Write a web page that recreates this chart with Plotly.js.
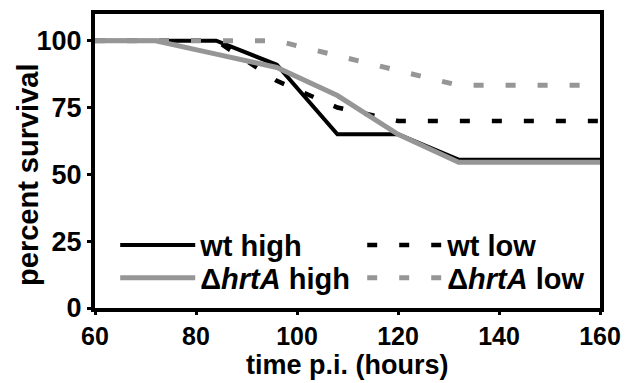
<!DOCTYPE html>
<html>
<head>
<meta charset="utf-8">
<script src="https://cdn.plot.ly/plotly-3.0.1.min.js"></script>
<style>html,body{margin:0;padding:0;background:#fff;}#chart{width:628px;height:383px;}</style>
</head>
<body>
<div id="chart"></div>
<script>
// time post infection (hours)
var hours = [60, 72, 84, 96, 108, 120, 132, 144, 160];
// percent survival per group
var wtHigh   = [100, 100, 100, 91, 65, 65, 55.5, 55.5, 55.5];
var wtLow    = [100, 100, 100, 85, 75, 70, 70, 70, 70];
var hrtAHigh = [100, 100, 95, 90, 79.5, 65, 54.5, 54.5, 54.5];
var hrtALow  = [100, 100, 100, 100, 94.4, 88.9, 83.3, 83.3, 83.3];
var seriesNames = ['wt high', 'wt low', '\u0394<i>hrtA</i> high', '\u0394<i>hrtA</i> low'];
var xTicks = [60, 80, 100, 120, 140, 160];
var yTicks = [0, 25, 50, 75, 100];
var xTitle = 'time p.i. (hours)';
var yTitle = 'percent survival';

var black = '#000000', gray = '#969696';
var dashPat = '10px,22px';

var traces = [
  {x: hours, y: wtHigh, name: seriesNames[0], legend: 'legend', mode: 'lines', line: {color: black, width: 4}},
  {x: hours, y: wtLow, name: seriesNames[1], legend: 'legend', mode: 'lines', line: {color: black, width: 4.5, dash: dashPat}},
  {x: hours, y: hrtAHigh, name: seriesNames[2], legend: 'legend2', mode: 'lines', line: {color: gray, width: 5}},
  {x: hours, y: hrtALow, name: seriesNames[3], legend: 'legend2', mode: 'lines', line: {color: gray, width: 5, dash: dashPat}}
];

var fontFam = 'Liberation Sans, Arial, sans-serif';
var legFont = {family: fontFam, size: 29, color: '#000', weight: 'bold'};
function legendAt(y) {
  return {
    orientation: 'h', x: 0.04, y: y, xanchor: 'left', yanchor: 'middle',
    entrywidth: 157, entrywidthmode: 'pixels', itemwidth: 75,
    font: legFont, bgcolor: 'rgba(0,0,0,0)'
  };
}
var layout = {
  width: 628, height: 383,
  margin: {l: 95, r: 28, t: 14, b: 75},
  paper_bgcolor: '#fff', plot_bgcolor: '#fff',
  font: {family: fontFam, color: '#000', size: 25, weight: 'bold'},
  showlegend: true,
  legend: legendAt(0.214),
  legend2: legendAt(0.102),
  xaxis: {
    range: [60, 160], tickvals: xTicks, ticktext: xTicks.map(String),
    showgrid: false, zeroline: false, showline: true, linewidth: 4, linecolor: black, mirror: true,
    ticks: 'outside', ticklen: 3, tickwidth: 3, tickcolor: black, ticklabelstandoff: 0,
    tickfont: {family: fontFam, size: 25, color: '#000', weight: 'bold'}
  },
  yaxis: {
    range: [0, 110], tickvals: yTicks, ticktext: yTicks.map(String),
    showgrid: false, zeroline: false, showline: true, linewidth: 4, linecolor: black, mirror: true,
    ticks: 'outside', ticklen: 4, tickwidth: 3, tickcolor: black,
    tickfont: {family: fontFam, size: 27, color: '#000', weight: 'bold'}
  },
  annotations: [{
    text: yTitle, textangle: -90, showarrow: false,
    xref: 'paper', yref: 'paper', x: -0.133, y: 0.452, xanchor: 'center', yanchor: 'middle',
    font: {family: fontFam, size: 29, color: '#000', weight: 'bold'}
  }, {
    text: xTitle, showarrow: false,
    xref: 'paper', yref: 'paper', x: 0.5, y: -0.195, xanchor: 'center', yanchor: 'middle',
    font: {family: fontFam, size: 27, color: '#000', weight: 'bold'}
  }]
};

Plotly.newPlot('chart', traces, layout, {displayModeBar: false, staticPlot: true});
</script>
</body>
</html>
